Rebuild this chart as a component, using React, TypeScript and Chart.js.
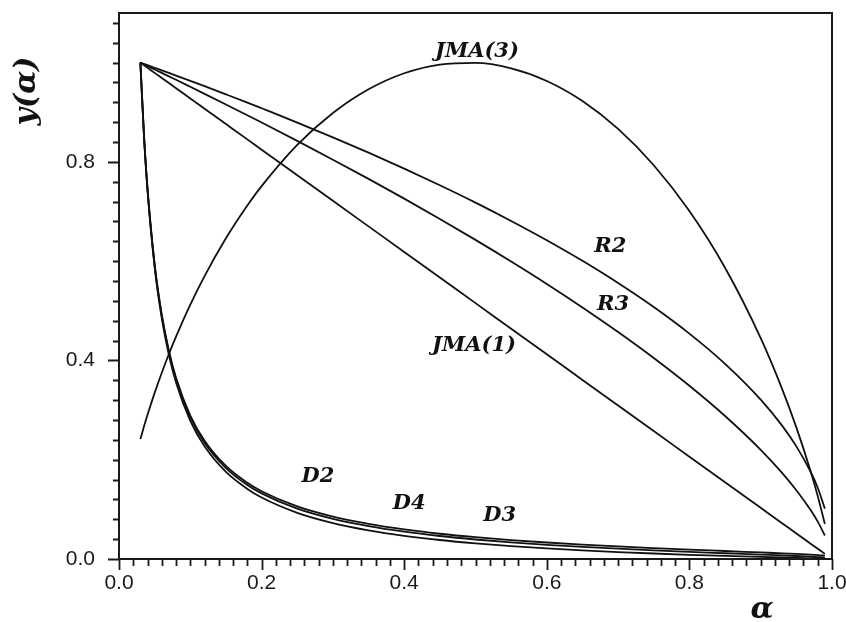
import { useEffect, useRef } from "react";
import { Chart, registerables } from "chart.js";
Chart.register(...registerables);

// conversion fraction alpha (x values)
const alpha = [0.03, 0.035, 0.04, 0.05, 0.06, 0.07, 0.08, 0.1, 0.12, 0.15, 0.18, 0.2, 0.25, 0.3, 0.35, 0.4, 0.45, 0.5, 0.55, 0.6, 0.65, 0.7, 0.75, 0.8, 0.85, 0.9, 0.93, 0.95, 0.97, 0.98, 0.99];

const jma3 = [0.2415, 0.2667, 0.2905, 0.3347, 0.3753, 0.4130, 0.4482, 0.5124, 0.5700, 0.6461, 0.7120, 0.7511, 0.8342, 0.8985, 0.9463, 0.9786, 0.9962, 0.9995, 0.9885, 0.9631, 0.9227, 0.8665, 0.7933, 0.7010, 0.5867, 0.4450, 0.3429, 0.2652, 0.1767, 0.1267, 0.0706];
const jma1 = [1.0, 0.9948, 0.9897, 0.9794, 0.9691, 0.9588, 0.9485, 0.9278, 0.9072, 0.8763, 0.8454, 0.8247, 0.7732, 0.7216, 0.6701, 0.6186, 0.5670, 0.5155, 0.4639, 0.4124, 0.3608, 0.3093, 0.2577, 0.2062, 0.1546, 0.1031, 0.0722, 0.0515, 0.0309, 0.0206, 0.0103];
const r2 = [1.0, 0.9974, 0.9948, 0.9897, 0.9844, 0.9792, 0.9739, 0.9632, 0.9525, 0.9361, 0.9195, 0.9081, 0.8793, 0.8495, 0.8186, 0.7865, 0.7530, 0.7180, 0.6811, 0.6422, 0.6007, 0.5561, 0.5077, 0.4541, 0.3932, 0.3211, 0.2687, 0.2269, 0.1758, 0.1436, 0.1015];
const r3 = [1.0, 0.9965, 0.9931, 0.9862, 0.9793, 0.9723, 0.9654, 0.9513, 0.9371, 0.9157, 0.8941, 0.8794, 0.8424, 0.8045, 0.7658, 0.7260, 0.6851, 0.6429, 0.5993, 0.5541, 0.5068, 0.4573, 0.4050, 0.3490, 0.2881, 0.2199, 0.1734, 0.1384, 0.0985, 0.0752, 0.0473];
const d2 = [1.0, 0.8549, 0.7461, 0.5938, 0.4923, 0.4197, 0.3653, 0.2891, 0.2383, 0.1874, 0.1535, 0.1365, 0.1059, 0.0854, 0.0707, 0.0596, 0.0509, 0.0439, 0.0381, 0.0332, 0.0290, 0.0253, 0.0220, 0.0189, 0.0161, 0.0132, 0.0115, 0.0102, 0.0087, 0.0078, 0.0066];
const d4 = [1.0, 0.8542, 0.7449, 0.5918, 0.4897, 0.4168, 0.3621, 0.2855, 0.2344, 0.1833, 0.1492, 0.1322, 0.1014, 0.0808, 0.0661, 0.0550, 0.0463, 0.0393, 0.0335, 0.0286, 0.0244, 0.0207, 0.0174, 0.0144, 0.0116, 0.0088, 0.0072, 0.0060, 0.0046, 0.0038, 0.0028];
const d3 = [1.0, 0.8527, 0.7423, 0.5877, 0.4846, 0.4110, 0.3558, 0.2785, 0.2270, 0.1754, 0.1411, 0.1239, 0.0931, 0.0725, 0.0578, 0.0468, 0.0383, 0.0315, 0.0259, 0.0213, 0.0173, 0.0140, 0.0111, 0.0085, 0.0062, 0.0041, 0.0030, 0.0022, 0.0014, 0.0010, 0.0006];

const seriesNames = ["JMA(3)", "JMA(1)", "R2", "R3", "D2", "D4", "D3"];
const seriesValues = [jma3, jma1, r2, r3, d2, d4, d3];

// curve label annotations (data coordinates)
const labelText = ["JMA(3)", "R2", "R3", "JMA(1)", "D2", "D4", "D3"];
const labelAlpha = [0.502, 0.689, 0.693, 0.498, 0.279, 0.407, 0.534];
const labelY = [1.022, 0.63, 0.513, 0.43, 0.166, 0.111, 0.087];

const xTitle = "α";
const yTitle = "y(α)";

const near = (v: number, step: number) => Math.abs(v / step - Math.round(v / step)) < 1e-6;

const decorPlugin = {
  id: "decor",
  afterDatasetsDraw(chart: any) {
    const { ctx, chartArea, scales } = chart;
    const xs = scales.x;
    const ys = scales.y;
    ctx.save();
    ctx.strokeStyle = "#1a1a1a";
    ctx.lineWidth = 2;
    ctx.strokeRect(chartArea.left, chartArea.top, chartArea.right - chartArea.left, chartArea.bottom - chartArea.top);
    // ticks
    ctx.lineWidth = 1.8;
    ctx.beginPath();
    xs.ticks.forEach((t: any) => {
      if (!near(t.value, 0.02)) return;
      const px = Math.round(xs.getPixelForValue(t.value)) + 0.5;
      const len = near(t.value, 0.2) ? 11 : 7;
      ctx.moveTo(px, chartArea.bottom);
      ctx.lineTo(px, chartArea.bottom + len);
    });
    ys.ticks.forEach((t: any) => {
      if (!near(t.value, 0.04)) return;
      const py = Math.round(ys.getPixelForValue(t.value)) + 0.5;
      const len = near(t.value, 0.4) ? 11 : 6;
      ctx.moveTo(chartArea.left, py);
      ctx.lineTo(chartArea.left - len, py);
    });
    ctx.stroke();
    // curve labels
    ctx.fillStyle = "#111";
    ctx.font = "bold italic 21px 'DejaVu Serif'";
    ctx.textAlign = "center";
    ctx.textBaseline = "middle";
    labelText.forEach((s, i) => {
      ctx.fillText(s, xs.getPixelForValue(labelAlpha[i]), ys.getPixelForValue(labelY[i]));
    });
    // axis titles
    ctx.font = "bold italic 30px 'DejaVu Serif'";
    ctx.fillText(xTitle, 762, 610);
    ctx.translate(27, 91);
    ctx.rotate(-Math.PI / 2);
    ctx.fillText(yTitle, 0, 0);
    ctx.restore();
  },
};

export default function App() {
  const ref = useRef<HTMLCanvasElement>(null);
  useEffect(() => {
    if (!ref.current) return;
    const chart = new Chart(ref.current, {
      type: "line",
      data: {
        datasets: seriesNames.map((name, i) => ({
          label: name,
          data: alpha.map((a, j) => ({ x: a, y: seriesValues[i][j] })),
          borderColor: "#111",
          borderWidth: 1.8,
          pointRadius: 0,
          fill: false,
          cubicInterpolationMode: "monotone" as const,
        })),
      },
      options: {
        animation: false,
        responsive: false,
        devicePixelRatio: 1,
        layout: { padding: { top: 13, right: 14, left: 0, bottom: 0 } },
        plugins: { legend: { display: false }, tooltip: { enabled: false } },
        scales: {
          x: {
            type: "linear",
            min: 0,
            max: 1,
            grid: { display: false, drawTicks: false },
            border: { display: false },
            ticks: {
              stepSize: 0.02,
              maxTicksLimit: 100,
              autoSkip: false,
              maxRotation: 0,
              padding: 12,
              color: "#1a1a1a",
              font: { family: "'Liberation Sans'", size: 21 },
              callback: (v: any) => (near(Number(v), 0.2) ? Number(v).toFixed(1) : ""),
            },
            afterFit: (s: any) => {
              s.height = 63;
              s.paddingLeft = 0;
              s.paddingRight = 0;
            },
          },
          y: {
            type: "linear",
            min: 0,
            max: 1.1,
            grid: { display: false, drawTicks: false },
            border: { display: false },
            ticks: {
              stepSize: 0.04,
              maxTicksLimit: 100,
              autoSkip: false,
              includeBounds: false,
              padding: 24,
              color: "#1a1a1a",
              font: { family: "'Liberation Sans'", size: 21 },
              callback: (v: any) => (near(Number(v), 0.4) ? Number(v).toFixed(1) : ""),
            },
            afterFit: (s: any) => {
              s.width = 119;
              s.paddingTop = 0;
              s.paddingBottom = 0;
            },
          },
        },
      },
      plugins: [decorPlugin],
    });
    return () => chart.destroy();
  }, []);
  return (
    <canvas
      ref={ref}
      width={846}
      height={622}
      style={{ position: "absolute", left: 0, top: 0, width: 846, height: 622, display: "block", background: "#fff" }}
    />
  );
}
